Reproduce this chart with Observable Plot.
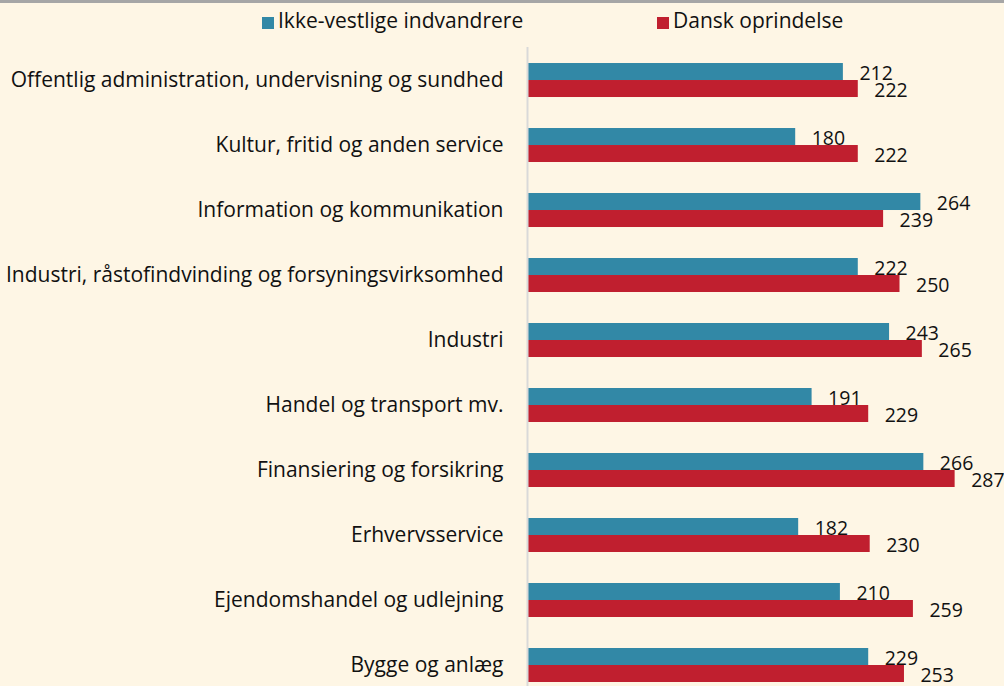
<!DOCTYPE html>
<html><head><meta charset="utf-8">
<script src="https://cdn.jsdelivr.net/npm/d3@7"></script>
<script src="https://cdn.jsdelivr.net/npm/@observablehq/plot@0.6"></script>
<style>
html,body{margin:0;padding:0;background:#fef6e5;}
#wrap{position:relative;width:1004px;height:686px;border-top:3px solid #a6a6a6;box-sizing:border-box;overflow:hidden;font-family:"Open Sans",Lato,sans-serif;color:#111;}
.leg{position:absolute;top:4px;font-size:21px;line-height:26px;white-space:nowrap;}
.leg span.sw{display:inline-block;width:12px;height:12px;margin-right:4px;vertical-align:-1px;}
#chart{position:absolute;left:0;top:0;}
</style></head>
<body>
<div id="wrap">
  <div class="leg" style="left:262px"><span class="sw" style="background:#3288a6"></span>Ikke-vestlige indvandrere</div>
  <div class="leg" style="left:657px"><span class="sw" style="background:#c01f2f"></span>Dansk oprindelse</div>
  <div id="chart"></div>
</div>
<script>
const categories = [
  "Offentlig administration, undervisning og sundhed",
  "Kultur, fritid og anden service",
  "Information og kommunikation",
  "Industri, råstofindvinding og forsyningsvirksomhed",
  "Industri",
  "Handel og transport mv.",
  "Finansiering og forsikring",
  "Erhvervsservice",
  "Ejendomshandel og udlejning",
  "Bygge og anlæg"
];
const ikkeVestlige = [212, 180, 264, 222, 243, 191, 266, 182, 210, 229];
const danskOprindelse = [222, 222, 239, 250, 265, 229, 287, 230, 259, 253];

const blue = categories.map((c, i) => ({c, v: ikkeVestlige[i]}));
const red = categories.map((c, i) => ({c, v: danskOprindelse[i]}));

const chart = Plot.plot({
  width: 1004,
  height: 683,
  marginLeft: 527,
  marginRight: 30,
  marginTop: 44,
  marginBottom: 0,
  style: {background: "transparent", fontFamily: "'Open Sans', Lato, sans-serif", color: "#111", overflow: "visible"},
  x: {domain: [0, 300], axis: null},
  y: {domain: categories, paddingInner: 0.477, paddingOuter: 0.154, align: 0.8, round: false, label: null},
  marks: [
    Plot.barX(blue, {x: "v", y: "c", fill: "#3288a6", insetBottom: 17}),
    Plot.barX(red, {x: "v", y: "c", fill: "#c01f2f", insetTop: 17}),
    Plot.ruleX([0], {stroke: "#d9d9d9", strokeWidth: 2}),
    Plot.text(blue, {x: "v", y: "c", text: d => String(d.v), dx: 16, dy: -7, textAnchor: "start", fontSize: 19.5, fill: "#111"}),
    Plot.text(red, {x: "v", y: "c", text: d => String(d.v), dx: 16, dy: 10, textAnchor: "start", fontSize: 19.5, fill: "#111"}),
    Plot.axisY({tickSize: 0, tickPadding: 24, fontSize: 21, label: null})
  ]
});
document.getElementById("chart").appendChild(chart);
</script>
</body></html>
